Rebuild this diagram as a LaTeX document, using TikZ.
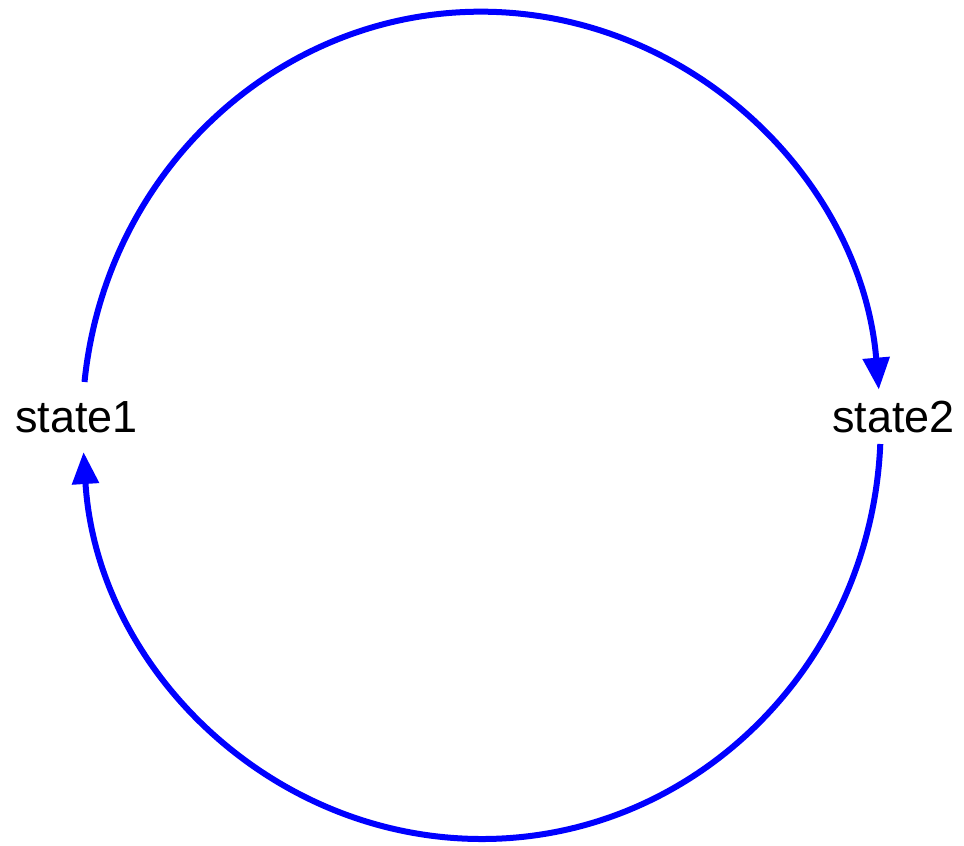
\documentclass[tikz,border=0pt]{standalone}
\usepackage{fontspec}
\setmainfont{Liberation Sans}
\usetikzlibrary{arrows.meta}
\definecolor{edgeblue}{RGB}{0,0,255}
\begin{document}
\begin{tikzpicture}[x=1pt,y=1pt,
  statelabel/.style={inner sep=0pt,outer sep=0pt,text height=32pt,text depth=0pt,
    font=\fontsize{45pt}{50pt}\selectfont,text=black,anchor=base west},
  edge/.style={draw=edgeblue,line width=6pt,-{Triangle[length=32pt,width=26pt]}}]
\useasboundingbox (0,0) rectangle (964,846);
\node[statelabel] (s1) at (15,413) {state1};
\node[statelabel] (s2) at (832,413) {state2};
\draw[edge] ([shift={(8.2pt,19pt)}]s1.north) arc[start angle=174, end angle=4.93, x radius=399pt, y radius=413.5pt];
\draw[edge] ([shift={(-13pt,-11pt)}]s2.south) arc[start angle=-2.56, end angle=-176.33, x radius=399pt, y radius=413.5pt];
\end{tikzpicture}
\end{document}
